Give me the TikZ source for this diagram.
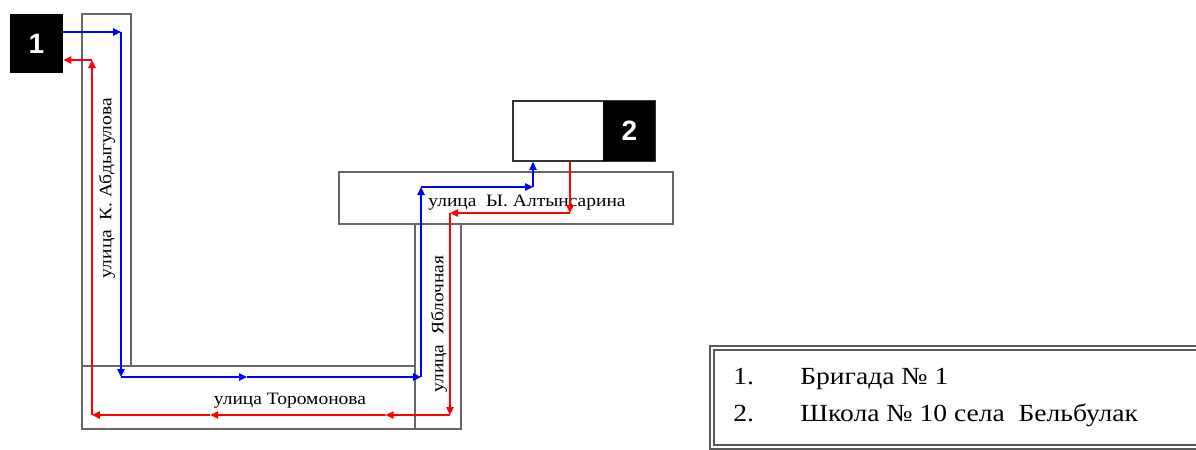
\documentclass[tikz,border=0pt]{standalone}
\usepackage{fontspec}
\setmainfont{Liberation Serif}[FakeStretch=1.12]
\newfontfamily\numfont{Liberation Sans}
\usetikzlibrary{calc,arrows.meta}
\tikzset{
	street/.style={draw=black!60, line width=1pt},
	blueway/.style={draw=blue, line width=0.9pt, -{Triangle[length=4pt,width=3.6pt]}},
	redway/.style={draw=red, line width=0.9pt, -{Triangle[length=4pt,width=3.6pt]}},
	numbox/.style={fill=black, text=white, inner sep=0pt, font=\numfont\bfseries\fontsize{14}{14}\selectfont},
	streetname/.style={inner sep=0pt, font=\fontsize{8.7}{9}\selectfont},
	legendtext/.style={inner sep=0pt, anchor=base west, font=\fontsize{12.3}{14}\selectfont}
}

\begin{document}
\begin{tikzpicture}[x=0.5pt,y=-0.5pt]
		\useasboundingbox (0,0) rectangle (1196,450);
		%%%%% STREETS %%%%%
		
		\draw[street] (131,366) -- (131,14) -- (82,14) -- (82,429) -- (461,429) -- (461,224);
		\draw[street] (82,366) -- (415,366);
		\draw[street] (415,224) -- (415,429);
		\draw[street] (339,172) rectangle (673,224);
		
		\node[streetname, rotate=90] (abdygulov) at (107,188) {улица\ \ К. Абдыгулова};
		\node[streetname] (toromonov) at (290,401) {улица Торомонова};
		\node[streetname, rotate=90] (yablochnaya) at (439,324) {улица\ \ Яблочная};
		\node[streetname] (altynsarin) at (527,203) {улица\ \ Ы. Алтынсарина};
		
		%%%%% POINTS %%%%%
		
		\node[numbox, minimum width=26.5pt, minimum height=29.5pt] (b1) at (36.5,43.5) {1};
		\node[draw=black!80, line width=0.8pt, minimum width=71pt, minimum height=30pt, inner sep=0pt] (b2) at (584,131) {};
		\node[numbox, minimum width=26pt, minimum height=30pt, anchor=east] (n2) at (b2.east) {2};
		
		%%%%% BLUE WAY %%%%%
		
		\coordinate (bA) at (121,32);
		\coordinate (bB) at (121,377);
		\coordinate (bC) at (421,377);
		\coordinate (bD) at (421,187);
		\coordinate (bE) at (533,187);
		
		\draw[blueway] (b1.east |- bA) -- (bA);
		\draw[blueway] (bA) -- (bB);
		\draw[blueway] (bB) -- ($(bB)!0.42!(bC)$);
		\draw[blueway] ($(bB)!0.42!(bC)$) -- (bC);
		\draw[blueway] (bC) -- (bD);
		\draw[blueway] (bD) -- (bE);
		\draw[blueway] (bE) -- (bE |- b2.south);
		
		%%%%% RED WAY %%%%%
		
		\coordinate (rA) at (570,213);
		\coordinate (rB) at (450,213);
		\coordinate (rC) at (450,415);
		\coordinate (rD) at (92,415);
		\coordinate (rE) at (92,60);
		
		\draw[redway] (rA |- b2.south) -- (rA);
		\draw[redway] (rA) -- (rB);
		\draw[redway] (rB) -- (rC);
		\draw[redway] (rC) -- ($(rC)!0.18!(rD)$);
		\draw[redway] ($(rC)!0.18!(rD)$) -- ($(rC)!0.67!(rD)$);
		\draw[redway] ($(rC)!0.67!(rD)$) -- (rD);
		\draw[redway] (rD) -- (rE);
		\draw[redway] (rE) -- (b1.east |- rE);
		
		%%%%% LEGEND %%%%%
		
		\draw[double=white, double distance=1.2pt, draw=black!65, line width=0.7pt] (712,348) rectangle (1220,447);
		\node[legendtext] (num1) at (733,384) {1.};
		\node[legendtext] (item1) at (800,384) {Бригада № 1};
		\node[legendtext] (num2) at (733,421) {2.};
		\node[legendtext] (item2) at (800,421) {Школа № 10 села\ \ Бельбулак};
		
	\end{tikzpicture}
\end{document}
